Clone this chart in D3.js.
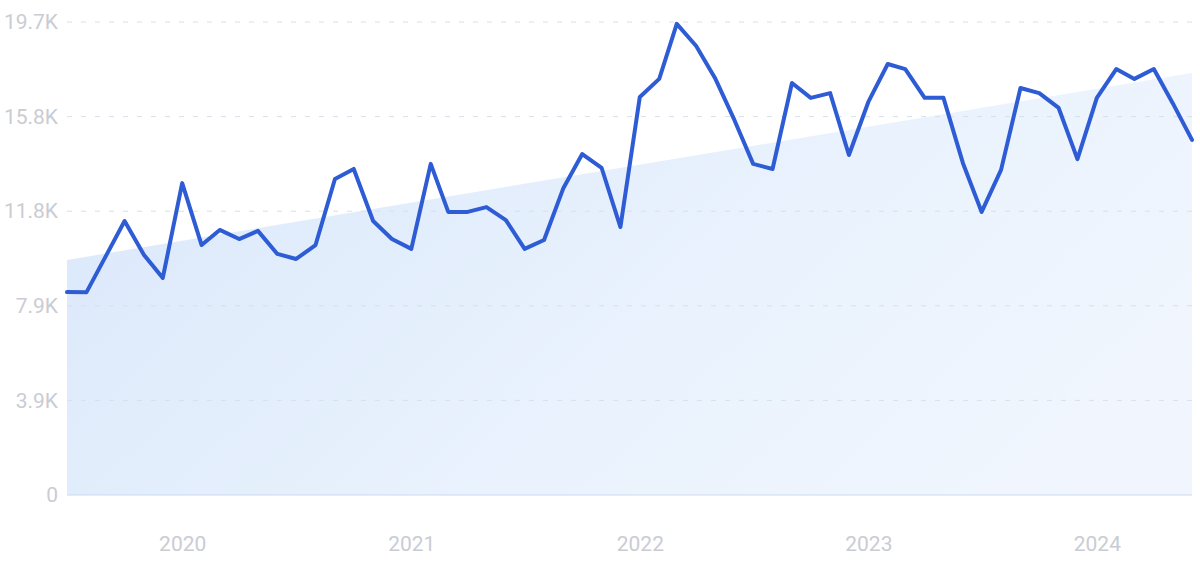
<!DOCTYPE html>
<html>
<head>
<meta charset="utf-8">
<script src="https://cdn.jsdelivr.net/npm/d3@7"></script>
<style>
  html, body { margin: 0; padding: 0; background: #ffffff; }
  svg { display: block; }
</style>
</head>
<body>
<svg id="chart" width="1200" height="561"></svg>
<script>
// ---- Data ----
const startMonth = "2019-07";
const endMonth = "2024-06";
const values = [
  8450, 8440, 9950, 11410, 10000, 9040, 12990, 10410, 11040, 10660,
  11000, 10040, 9830, 10410, 13160, 13580, 11410, 10660, 10250, 13790,
  11790, 11790, 11990, 11450, 10250, 10620, 12790, 14200, 13620, 11160,
  16580, 17330, 19620, 18700, 17370, 15620, 13790, 13580, 17160, 16540,
  16740, 14160, 16370, 17950, 17740, 16540, 16540, 13830, 11790, 13540,
  16950, 16740, 16120, 13990, 16540, 17740, 17330, 17740, 16330, 14790
];
const trendStart = 9790;
const trendEnd = 17580;
const yTickValues = [0, 3940, 7880, 11820, 15760, 19700];
const yTickLabels = ["0", "3.9K", "7.9K", "11.8K", "15.8K", "19.7K"];
const xTickLabels = ["2020", "2021", "2022", "2023", "2024"];

(function () {
const parseM = d3.timeParse("%Y-%m");
const dates = d3.timeMonth.range(parseM(startMonth), d3.timeMonth.offset(parseM(endMonth), 1));
const data = dates.map((d, i) => ({ date: d, value: values[i] }));

const svg = d3.select("#chart");
const mLeft = 67, mRight = 1192, mTop = 22, mBottom = 495;

const x = d3.scaleTime().domain([dates[0], dates[dates.length - 1]]).range([mLeft, mRight]);
const y = d3.scaleLinear().domain([0, 19700]).range([mBottom, mTop]);

const defs = svg.append("defs");
const grad = defs.append("linearGradient").attr("id", "areaGrad")
  .attr("x1", "0").attr("y1", "0.3").attr("x2", "1").attr("y2", "0.7");
grad.append("stop").attr("offset", "0%").attr("stop-color", "#dce9fb");
grad.append("stop").attr("offset", "55%").attr("stop-color", "#e9f2fd");
grad.append("stop").attr("offset", "100%").attr("stop-color", "#f1f6fe");

const trend = [
  { date: dates[0], value: trendStart },
  { date: dates[dates.length - 1], value: trendEnd }
];
svg.append("path")
  .datum(trend)
  .attr("fill", "url(#areaGrad)")
  .attr("d", d3.area().x(d => x(d.date)).y0(y(0)).y1(d => y(d.value)));

const fontFam = "Roboto, 'Noto Sans', sans-serif";
const yAxis = d3.axisLeft(y)
  .tickValues(yTickValues)
  .tickFormat((d, i) => yTickLabels[i])
  .tickSize(0)
  .tickPadding(9);
const gy = svg.append("g").attr("transform", `translate(${mLeft},0)`).call(yAxis);
gy.select(".domain").remove();
gy.selectAll("text")
  .attr("fill", "#caccd3")
  .attr("font-family", fontFam)
  .attr("font-size", 21)
  .attr("font-weight", 400);

svg.append("g").selectAll("line")
  .data(yTickValues.filter(v => v > 0))
  .join("line")
  .attr("x1", mLeft).attr("x2", mRight)
  .attr("y1", d => y(d)).attr("y2", d => y(d))
  .attr("stroke", "#d6e0ec")
  .attr("stroke-width", 1)
  .attr("stroke-dasharray", "5,9");

svg.append("line")
  .attr("x1", mLeft).attr("x2", mRight)
  .attr("y1", y(0)).attr("y2", y(0))
  .attr("stroke", "#cbdaf0")
  .attr("stroke-width", 1.2);

const yearDates = xTickLabels.map(s => d3.timeParse("%Y")(s));
const xAxis = d3.axisBottom(x)
  .tickValues(yearDates)
  .tickFormat((d, i) => xTickLabels[i])
  .tickSize(0)
  .tickPadding(41);
const gx = svg.append("g").attr("transform", `translate(0,${mBottom})`).call(xAxis);
gx.select(".domain").remove();
gx.selectAll("text")
  .attr("fill", "#caccd3")
  .attr("font-family", fontFam)
  .attr("font-size", 21);

svg.append("path")
  .datum(data)
  .attr("fill", "none")
  .attr("stroke", "#2e5cd4")
  .attr("stroke-width", 4)
  .attr("stroke-linejoin", "round")
  .attr("stroke-linecap", "round")
  .attr("d", d3.line().x(d => x(d.date)).y(d => y(d.value)));
})();
</script>
</body>
</html>
